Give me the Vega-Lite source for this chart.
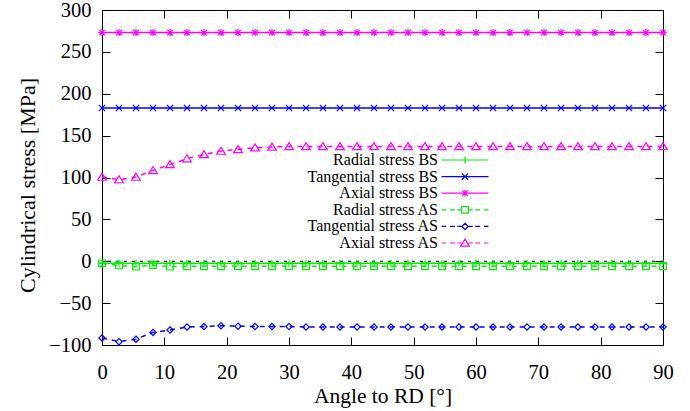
{
  "$schema": "https://vega.github.io/schema/vega-lite/v6.json",
  "width": 561,
  "height": 335,
  "autosize": "none",
  "padding": {"left": 102, "top": 10, "right": 27, "bottom": 66},
  "background": "white",
  "config": {
    "view": {"stroke": "black", "strokeWidth": 1},
    "font": "Liberation Serif"
  },
  "datasets": {
    "main": [
      {"a": 0, "Radial stress BS": -2.5, "Tangential stress BS": 183, "Axial stress BS": 273, "Radial stress AS": -2.5, "Tangential stress AS": -91.5, "Axial stress AS": 100.5},
      {"a": 2.73, "Radial stress BS": -2.5, "Tangential stress BS": 183, "Axial stress BS": 273, "Radial stress AS": -5, "Tangential stress AS": -96, "Axial stress AS": 97.5},
      {"a": 5.45, "Radial stress BS": -2.5, "Tangential stress BS": 183, "Axial stress BS": 273, "Radial stress AS": -6.5, "Tangential stress AS": -93, "Axial stress AS": 100.5},
      {"a": 8.18, "Radial stress BS": -2.5, "Tangential stress BS": 183, "Axial stress BS": 273, "Radial stress AS": -4.5, "Tangential stress AS": -85, "Axial stress AS": 108.5},
      {"a": 10.91, "Radial stress BS": -2.5, "Tangential stress BS": 183, "Axial stress BS": 273, "Radial stress AS": -6.5, "Tangential stress AS": -82, "Axial stress AS": 115.5},
      {"a": 13.64, "Radial stress BS": -2.5, "Tangential stress BS": 183, "Axial stress BS": 273, "Radial stress AS": -6, "Tangential stress AS": -78.5, "Axial stress AS": 122.5},
      {"a": 16.36, "Radial stress BS": -2.5, "Tangential stress BS": 183, "Axial stress BS": 273, "Radial stress AS": -6, "Tangential stress AS": -78, "Axial stress AS": 127.5},
      {"a": 19.09, "Radial stress BS": -2.5, "Tangential stress BS": 183, "Axial stress BS": 273, "Radial stress AS": -6, "Tangential stress AS": -77, "Axial stress AS": 131.5},
      {"a": 21.82, "Radial stress BS": -2.5, "Tangential stress BS": 183, "Axial stress BS": 273, "Radial stress AS": -6, "Tangential stress AS": -77.5, "Axial stress AS": 133.5},
      {"a": 24.55, "Radial stress BS": -2.5, "Tangential stress BS": 183, "Axial stress BS": 273, "Radial stress AS": -6, "Tangential stress AS": -78, "Axial stress AS": 135.5},
      {"a": 27.27, "Radial stress BS": -2.5, "Tangential stress BS": 183, "Axial stress BS": 273, "Radial stress AS": -6, "Tangential stress AS": -78, "Axial stress AS": 136.5},
      {"a": 30, "Radial stress BS": -2.5, "Tangential stress BS": 183, "Axial stress BS": 273, "Radial stress AS": -6, "Tangential stress AS": -78, "Axial stress AS": 137},
      {"a": 32.73, "Radial stress BS": -2.5, "Tangential stress BS": 183, "Axial stress BS": 273, "Radial stress AS": -6, "Tangential stress AS": -78.5, "Axial stress AS": 137},
      {"a": 35.45, "Radial stress BS": -2.5, "Tangential stress BS": 183, "Axial stress BS": 273, "Radial stress AS": -6, "Tangential stress AS": -78.5, "Axial stress AS": 137},
      {"a": 38.18, "Radial stress BS": -2.5, "Tangential stress BS": 183, "Axial stress BS": 273, "Radial stress AS": -6, "Tangential stress AS": -78.5, "Axial stress AS": 137},
      {"a": 40.91, "Radial stress BS": -2.5, "Tangential stress BS": 183, "Axial stress BS": 273, "Radial stress AS": -6, "Tangential stress AS": -78.5, "Axial stress AS": 137},
      {"a": 43.64, "Radial stress BS": -2.5, "Tangential stress BS": 183, "Axial stress BS": 273, "Radial stress AS": -6, "Tangential stress AS": -78.5, "Axial stress AS": 137},
      {"a": 46.36, "Radial stress BS": -2.5, "Tangential stress BS": 183, "Axial stress BS": 273, "Radial stress AS": -6, "Tangential stress AS": -78.5, "Axial stress AS": 137},
      {"a": 49.09, "Radial stress BS": -2.5, "Tangential stress BS": 183, "Axial stress BS": 273, "Radial stress AS": -6, "Tangential stress AS": -78.5, "Axial stress AS": 137},
      {"a": 51.82, "Radial stress BS": -2.5, "Tangential stress BS": 183, "Axial stress BS": 273, "Radial stress AS": -6, "Tangential stress AS": -78.5, "Axial stress AS": 137},
      {"a": 54.55, "Radial stress BS": -2.5, "Tangential stress BS": 183, "Axial stress BS": 273, "Radial stress AS": -6, "Tangential stress AS": -78.5, "Axial stress AS": 137},
      {"a": 57.27, "Radial stress BS": -2.5, "Tangential stress BS": 183, "Axial stress BS": 273, "Radial stress AS": -6, "Tangential stress AS": -78.5, "Axial stress AS": 137},
      {"a": 60, "Radial stress BS": -2.5, "Tangential stress BS": 183, "Axial stress BS": 273, "Radial stress AS": -6, "Tangential stress AS": -78.5, "Axial stress AS": 137},
      {"a": 62.73, "Radial stress BS": -2.5, "Tangential stress BS": 183, "Axial stress BS": 273, "Radial stress AS": -6, "Tangential stress AS": -78.5, "Axial stress AS": 137},
      {"a": 65.45, "Radial stress BS": -2.5, "Tangential stress BS": 183, "Axial stress BS": 273, "Radial stress AS": -6, "Tangential stress AS": -78.5, "Axial stress AS": 137},
      {"a": 68.18, "Radial stress BS": -2.5, "Tangential stress BS": 183, "Axial stress BS": 273, "Radial stress AS": -6, "Tangential stress AS": -78.5, "Axial stress AS": 137},
      {"a": 70.91, "Radial stress BS": -2.5, "Tangential stress BS": 183, "Axial stress BS": 273, "Radial stress AS": -6, "Tangential stress AS": -78.5, "Axial stress AS": 137},
      {"a": 73.64, "Radial stress BS": -2.5, "Tangential stress BS": 183, "Axial stress BS": 273, "Radial stress AS": -6, "Tangential stress AS": -78.5, "Axial stress AS": 137},
      {"a": 76.36, "Radial stress BS": -2.5, "Tangential stress BS": 183, "Axial stress BS": 273, "Radial stress AS": -6, "Tangential stress AS": -78.5, "Axial stress AS": 137},
      {"a": 79.09, "Radial stress BS": -2.5, "Tangential stress BS": 183, "Axial stress BS": 273, "Radial stress AS": -6, "Tangential stress AS": -78.5, "Axial stress AS": 137},
      {"a": 81.82, "Radial stress BS": -2.5, "Tangential stress BS": 183, "Axial stress BS": 273, "Radial stress AS": -6, "Tangential stress AS": -78.5, "Axial stress AS": 137},
      {"a": 84.55, "Radial stress BS": -2.5, "Tangential stress BS": 183, "Axial stress BS": 273, "Radial stress AS": -6, "Tangential stress AS": -78.5, "Axial stress AS": 137},
      {"a": 87.27, "Radial stress BS": -2.5, "Tangential stress BS": 183, "Axial stress BS": 273, "Radial stress AS": -6, "Tangential stress AS": -78.5, "Axial stress AS": 137},
      {"a": 90, "Radial stress BS": -2.5, "Tangential stress BS": 183, "Axial stress BS": 273, "Radial stress AS": -6, "Tangential stress AS": -78.5, "Axial stress AS": 137}
    ],
    "zero": [{"z": 0}]
  },
  "layer": [
    {
      "data": {"name": "zero"},
      "mark": {"type": "rule", "color": "black", "strokeDash": [3, 5], "strokeWidth": 1},
      "encoding": {
        "y": {"field": "z", "type": "quantitative", "axis": null}
      }
    },
    {
      "data": {"name": "main"},
      "transform": [{"fold": ["Radial stress BS", "Tangential stress BS", "Axial stress BS", "Radial stress AS", "Tangential stress AS", "Axial stress AS"], "as": ["series", "value"]}],
      "mark": {"type": "line", "strokeWidth": 1.5},
      "encoding": {
        "x": {
          "field": "a", "type": "quantitative",
          "scale": {"domain": [0, 90], "nice": false},
          "axis": {"orient": "bottom", "values": [0, 10, 20, 30, 40, 50, 60, 70, 80, 90], "tickSize": -8, "tickColor": "black", "domain": false, "grid": false,
            "labelFont": "Liberation Serif", "labelFontSize": 20.5, "labelColor": "black", "labelPadding": 25, "labelFlush": false,
            "title": "Angle to RD [°]", "titleFont": "Liberation Serif", "titleFontSize": 21.5, "titleFontWeight": "normal", "titleColor": "black", "titleY": 51, "titleBaseline": "middle"}
        },
        "y": {
          "field": "value", "type": "quantitative",
          "scale": {"domain": [-100, 300], "nice": false},
          "axis": {"orient": "left", "values": [-100, -50, 0, 50, 100, 150, 200, 250, 300], "tickSize": -8, "tickColor": "black", "domain": false, "grid": false,
            "labelFont": "Liberation Serif", "labelFontSize": 20.5, "labelColor": "black", "labelPadding": 19, "labelFlush": false,
            "title": "Cylindrical stress [MPa]", "titleFont": "Liberation Serif", "titleFontSize": 22, "titleFontWeight": "normal", "titleColor": "black", "titleX": -75, "titleY": 175, "titleBaseline": "middle", "titleAngle": -90}
        },
        "color": {
          "field": "series", "type": "nominal",
          "scale": {"domain": ["Radial stress BS", "Tangential stress BS", "Axial stress BS", "Radial stress AS", "Tangential stress AS", "Axial stress AS"],
                    "range": ["#00ee00", "#0000ff", "#ff00ff", "#00ee00", "#0000ff", "#ff00ff"]},
          "legend": null
        },
        "strokeDash": {
          "field": "series", "type": "nominal",
          "scale": {"domain": ["Radial stress BS", "Tangential stress BS", "Axial stress BS", "Radial stress AS", "Tangential stress AS", "Axial stress AS"],
                    "range": [[1, 0], [1, 0], [1, 0], [5, 5], [5, 5], [5, 5]]},
          "legend": null
        }
      }
    },
    {
      "data": {"name": "main"},
      "transform": [{"fold": ["Radial stress BS", "Tangential stress BS", "Axial stress BS", "Radial stress AS", "Tangential stress AS", "Axial stress AS"], "as": ["series", "value"]}],
      "mark": {"type": "point", "filled": false, "strokeWidth": 1.2, "size": 49, "opacity": 1},
      "encoding": {
        "x": {"field": "a", "type": "quantitative", "axis": null},
        "y": {"field": "value", "type": "quantitative", "axis": null},
        "color": {"field": "series", "type": "nominal", "legend": null},
        "shape": {
          "field": "series", "type": "nominal",
          "scale": {"domain": ["Radial stress BS", "Tangential stress BS", "Axial stress BS", "Radial stress AS", "Tangential stress AS", "Axial stress AS"],
                    "range": ["M-1,0H1M0,-1V1", "M-0.9,-0.9L0.9,0.9M-0.9,0.9L0.9,-0.9", "M-1,0H1M0,-1V1M-0.8,-0.8L0.8,0.8M-0.8,0.8L0.8,-0.8", "M-0.95,-0.95H0.95V0.95H-0.95Z", "M0,-0.9L0.9,0L0,0.9L-0.9,0Z", "M0,-1.1L1.25,0.9H-1.25Z"]},
          "legend": null
        }
      }
    },
    {
      "data": {"name": "main"},
      "transform": [
        {"fold": ["Radial stress BS", "Tangential stress BS", "Axial stress BS", "Radial stress AS", "Tangential stress AS", "Axial stress AS"], "as": ["series", "value"]},
        {"filter": "datum.a == 0"}
      ],
      "mark": {"type": "point", "filled": false, "opacity": 0, "size": 49},
      "encoding": {
        "x": {"field": "a", "type": "quantitative",
          "axis": {"orient": "top", "values": [0, 10, 20, 30, 40, 50, 60, 70, 80, 90], "tickSize": -8, "tickColor": "black", "domain": false, "grid": false, "labels": false, "title": null}},
        "y": {"field": "value", "type": "quantitative",
          "axis": {"orient": "right", "values": [-100, -50, 0, 50, 100, 150, 200, 250, 300], "tickSize": -8, "tickColor": "black", "domain": false, "grid": false, "labels": false, "title": null}},
        "color": {
          "field": "series", "type": "nominal",
          "legend": {
            "orient": "none", "legendX": 355, "legendY": 142, "padding": 0,
            "title": null,
            "labelFont": "Liberation Serif", "labelFontSize": 16, "labelColor": "black",
            "labelAlign": "right", "labelOffset": -35, "labelLimit": 300,
            "symbolSize": 49, "symbolStrokeWidth": 1.2, "symbolFillColor": "transparent",
            "symbolStrokeColor": {"expr": "indexof(datum.value, 'Radial') >= 0 ? '#00ee00' : (indexof(datum.value, 'Tangential') >= 0 ? '#0000ff' : '#ff00ff')"},
            "symbolOpacity": 1,
            "rowPadding": 0.6
          }
        },
        "shape": {
          "field": "series", "type": "nominal",
          "scale": {"domain": ["Radial stress BS", "Tangential stress BS", "Axial stress BS", "Radial stress AS", "Tangential stress AS", "Axial stress AS"],
                    "range": [
                      "M-6.7,0H6.7M-1,0H1M0,-1V1",
                      "M-6.7,0H6.7M-0.9,-0.9L0.9,0.9M-0.9,0.9L0.9,-0.9",
                      "M-6.7,0H6.7M-1,0H1M0,-1V1M-0.8,-0.8L0.8,0.8M-0.8,0.8L0.8,-0.8",
                      "M-6.7,0H-5.4M-4.3,0H-2.9M-2.2,0H-0.95M0.95,0H2.2M2.9,0H4.3M5.4,0H6.7M-0.95,-0.95H0.95V0.95H-0.95Z",
                      "M-6.7,0H-5.4M-4.3,0H-2.9M-2.2,0H-0.9M0.9,0H2.2M2.9,0H4.3M5.4,0H6.7M0,-0.9L0.9,0L0,0.9L-0.9,0Z",
                      "M-6.7,0H-5.4M-4.3,0H-2.9M-2.2,0H-1M1,0H2.2M2.9,0H4.3M5.4,0H6.7M0,-1.1L1.25,0.9H-1.25Z"
                    ]},
          "legend": {
            "orient": "none", "legendX": 355, "legendY": 142, "padding": 0,
            "title": null,
            "labelFont": "Liberation Serif", "labelFontSize": 16, "labelColor": "black",
            "labelAlign": "right", "labelOffset": -35, "labelLimit": 300,
            "symbolSize": 49, "symbolStrokeWidth": 1.2, "symbolFillColor": "transparent",
            "symbolStrokeColor": {"expr": "indexof(datum.value, 'Radial') >= 0 ? '#00ee00' : (indexof(datum.value, 'Tangential') >= 0 ? '#0000ff' : '#ff00ff')"},
            "symbolOpacity": 1,
            "rowPadding": 0.6
          }
        }
      }
    }
  ],
  "resolve": {"scale": {"shape": "independent"}, "axis": {"x": "independent", "y": "independent"}}
}
